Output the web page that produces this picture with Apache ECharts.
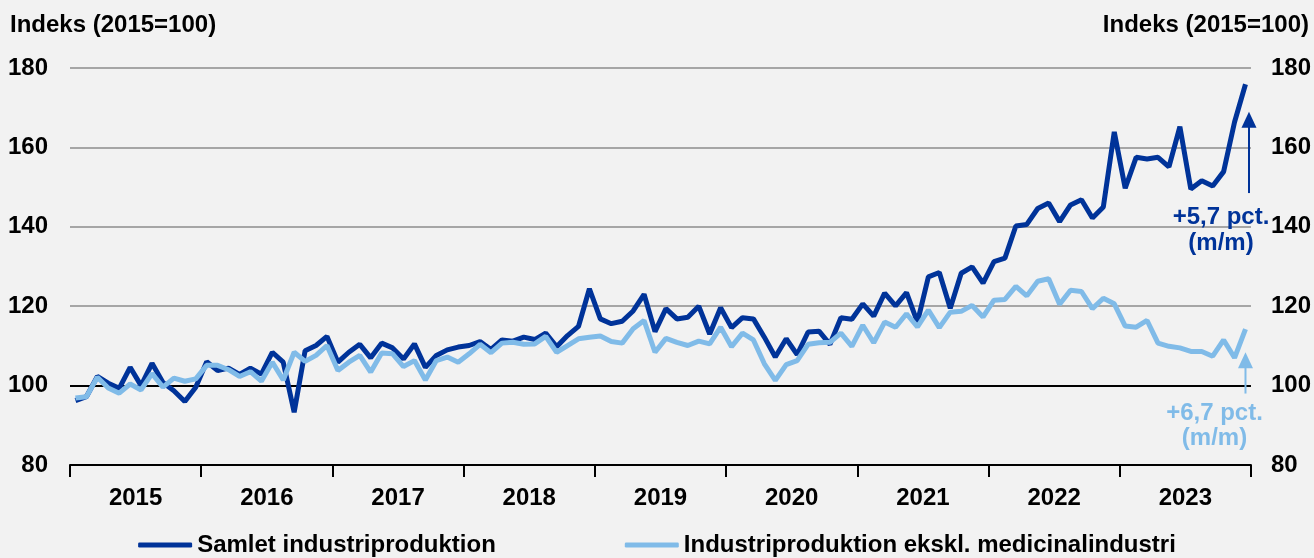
<!DOCTYPE html>
<html>
<head>
<meta charset="utf-8">
<script src="https://cdn.jsdelivr.net/npm/echarts@6/dist/echarts.min.js"></script>
<style>
  html, body { margin: 0; padding: 0; background: #f2f2f2; }
  #chart { width: 1314px; height: 558px; }
</style>
</head>
<body>
<div id="chart"></div>
<script>
// Industrial production index, monthly 2015-2023 (2015 = 100)
const years = ['2015', '2016', '2017', '2018', '2019', '2020', '2021', '2022', '2023'];

const samlet = [
  96.2, 97.2, 102.3, 100.6, 99.3, 104.6, 100.0, 105.6, 100.8, 98.7, 96.0, 99.6,
  106.0, 103.8, 104.4, 102.8, 104.4, 102.9, 108.4, 105.9, 93.3, 108.8, 110.1, 112.4,
  105.9, 108.4, 110.4, 107.0, 110.7, 109.5, 106.7, 110.5, 104.6, 107.6, 109.0, 109.7,
  110.1, 111.1, 109.1, 111.5, 111.2, 112.2, 111.6, 113.2, 109.8, 112.6, 114.9, 124.4,
  116.8, 115.6, 116.2, 118.8, 123.0, 113.6, 119.4, 116.8, 117.2, 120.0, 113.0, 119.6,
  114.6, 117.1, 116.8, 112.2, 107.2, 111.8, 107.8, 113.5, 113.7, 110.4, 117.1, 116.7,
  120.6, 117.5, 123.3, 120.1, 123.4, 116.0, 127.4, 128.5, 119.5, 128.3, 129.9, 125.8,
  131.2, 132.1, 140.2, 140.6, 144.6, 146.0, 141.3, 145.5, 146.8, 142.2, 145.0, 163.9,
  149.7, 157.5, 157.1, 157.5, 155.1, 165.2, 149.5, 151.6, 150.3, 153.9, 166.4, 175.9
];

const eksklMedicinal = [
  96.9, 97.2, 102.1, 99.4, 98.1, 100.4, 98.9, 103.0, 99.6, 101.9, 101.1, 101.7,
  105.1, 105.1, 104.0, 102.3, 103.5, 101.1, 105.9, 101.4, 108.4, 106.1, 107.6, 110.1,
  103.8, 105.9, 107.6, 103.4, 108.2, 108.0, 104.8, 106.3, 101.4, 106.3, 107.2, 105.9,
  108.0, 110.4, 108.3, 110.7, 110.9, 110.4, 110.5, 112.4, 108.4, 110.1, 111.8, 112.2,
  112.5, 111.1, 110.7, 114.3, 116.4, 108.4, 111.9, 110.9, 110.1, 111.2, 110.5, 114.7,
  109.8, 113.2, 111.5, 105.5, 101.3, 105.3, 106.3, 110.4, 110.8, 110.9, 113.2, 109.9,
  115.2, 110.8, 116.0, 114.7, 118.1, 114.8, 119.0, 114.6, 118.5, 118.7, 120.2, 117.3,
  121.5, 121.7, 125.0, 122.6, 126.3, 126.9, 120.5, 124.0, 123.7, 119.4, 122.0, 120.6,
  115.0, 114.7, 116.4, 110.7, 109.9, 109.5, 108.6, 108.6, 107.4, 111.5, 107.0, 114.2
];

const seriesNames = ['Samlet industriproduktion', 'Industriproduktion ekskl. medicinalindustri'];
const axisTitle = 'Indeks (2015=100)';

// one category per month, grouped under the year axis
const months = [];
years.forEach(y => { for (let m = 1; m <= 12; m++) months.push(y + '-' + String(m).padStart(2, '0')); });

const DARK = '#003399';
const LIGHT = '#80bbe8';
const FONT = "'Liberation Sans', Arial, sans-serif";
const FS = 24;

const chart = echarts.init(document.getElementById('chart'));

const valueAxisBase = {
  type: 'value', min: 80, max: 180, interval: 20,
  axisLine: { show: false }, axisTick: { show: false }
};

chart.setOption({
  backgroundColor: '#f2f2f2',
  animation: false,
  textStyle: { fontFamily: FONT },
  title: [
    { text: axisTitle, left: 5, top: 8,
      textStyle: { fontFamily: FONT, fontSize: FS, fontWeight: 'bold', color: '#000' } },
    { text: axisTitle, right: 0, top: 8,
      textStyle: { fontFamily: FONT, fontSize: FS, fontWeight: 'bold', color: '#000' } }
  ],
  grid: { left: 70, right: 62, top: 68, bottom: 93, containLabel: false },
  legend: {
    top: 533, left: 'center', padding: 0,
    itemGap: 129, itemWidth: 54, itemHeight: 5,
    icon: 'roundRect',
    textStyle: { fontFamily: FONT, fontSize: FS, fontWeight: 'bold', color: '#000' },
    data: seriesNames
  },
  xAxis: [
    { type: 'category', data: months, boundaryGap: true, position: 'bottom',
      axisLine: { show: false }, axisTick: { show: false }, axisLabel: { show: false },
      splitLine: { show: false } },
    { type: 'category', data: years, boundaryGap: true, position: 'bottom',
      axisLine: { show: true, onZero: false, lineStyle: { color: '#000', width: 2 } },
      axisTick: { show: true, length: 12, lineStyle: { color: '#000', width: 2 } },
      axisLabel: { margin: 21, fontFamily: FONT, fontSize: FS, fontWeight: 'bold', color: '#000' },
      splitLine: { show: false } }
  ],
  yAxis: [
    Object.assign({}, valueAxisBase, {
      position: 'left',
      axisLabel: { margin: 22, fontFamily: FONT, fontSize: FS, fontWeight: 'bold', color: '#000' },
      splitLine: { show: true, lineStyle: {
        color: ['#a6a6a6', '#000000', '#a6a6a6', '#a6a6a6', '#a6a6a6', '#a6a6a6'], width: 2 } }
    }),
    Object.assign({}, valueAxisBase, {
      position: 'right',
      axisLabel: { margin: 20, fontFamily: FONT, fontSize: FS, fontWeight: 'bold', color: '#000' },
      splitLine: { show: false }
    })
  ],
  series: [
    { name: seriesNames[0], type: 'line', data: samlet, xAxisIndex: 0, yAxisIndex: 0,
      symbol: 'none', lineStyle: { color: DARK, width: 5 }, itemStyle: { color: DARK }, z: 3 },
    { name: seriesNames[1], type: 'line', data: eksklMedicinal, xAxisIndex: 0, yAxisIndex: 0,
      symbol: 'none', lineStyle: { color: LIGHT, width: 5 }, itemStyle: { color: LIGHT }, z: 4 }
  ]
});

// month-on-month change annotations at the last observation
function px(i, v) { return chart.convertToPixel({ xAxisIndex: 0, yAxisIndex: 0 }, [i, v]); }
function mom(arr) {
  const n = arr.length;
  const pct = (arr[n - 1] / arr[n - 2] - 1) * 100;
  return (pct >= 0 ? '+' : '') + pct.toFixed(1).replace('.', ',') + ' pct.';
}

function arrowGroup(color, xShift, fromV, toV, textX, line1V, line2V, label) {
  const last = months.length - 1;
  const base = px(last, fromV);
  const tip = px(last, toV);
  const x = base[0] + xShift;
  const headLen = 16, headHalf = 7.5;
  const t1 = px(last, line1V), t2 = px(last, line2V);
  const font = 'bold ' + FS + 'px ' + FONT;
  return [
    { type: 'line', z: 10, shape: { x1: x, y1: base[1], x2: x, y2: tip[1] + headLen - 1 },
      style: { stroke: color, lineWidth: 2 } },
    { type: 'polygon', z: 10,
      shape: { points: [[x, tip[1]], [x - headHalf, tip[1] + headLen], [x + headHalf, tip[1] + headLen]] },
      style: { fill: color } },
    { type: 'text', z: 10, style: { text: label, x: x + textX, y: t1[1], align: 'center',
      verticalAlign: 'middle', font: font, fill: color } },
    { type: 'text', z: 10, style: { text: '(m/m)', x: x + textX, y: t2[1], align: 'center',
      verticalAlign: 'middle', font: font, fill: color } }
  ];
}

chart.setOption({
  graphic: [].concat(
    arrowGroup(DARK, 3.5, 148.5, 169, -28, 142.4, 135.9, mom(samlet)),
    arrowGroup(LIGHT, 0, 98.0, 108.4, -31, 92.9, 86.6, mom(eksklMedicinal))
  )
});
</script>
</body>
</html>
